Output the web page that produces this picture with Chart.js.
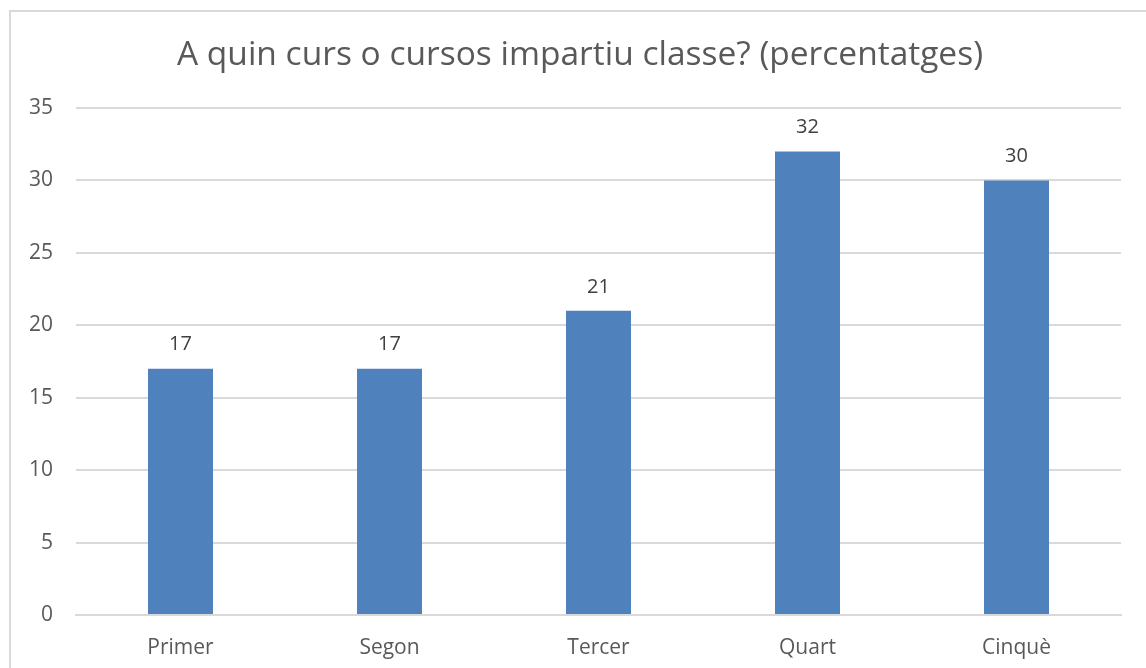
<!DOCTYPE html>
<html>
<head>
<meta charset="utf-8">
<script src="https://cdn.jsdelivr.net/npm/chart.js@4.4.0/dist/chart.umd.min.js"></script>
<style>
    html, body { margin: 0; padding: 0; background: #ffffff; overflow: hidden; }
    #frame {
        position: absolute; left: 9px; top: 10px; width: 1200px; height: 700px;
        border-top: 2px solid #d9d9d9; border-left: 2px solid #d9d9d9;
    }
    #wrap { position: absolute; left: 0; top: 0; width: 1146px; height: 668px; }
</style>
</head>
<body>
<div id="frame"></div>
<div id="wrap"><canvas id="myChart" width="1146" height="668"></canvas></div>
<script>
var titleText = "A quin curs o cursos impartiu classe? (percentatges)";
var cursos = ["Primer", "Segon", "Tercer", "Quart", "Cinquè"];
var percentatges = [17, 17, 21, 32, 30];
var yTicks = [0, 5, 10, 15, 20, 25, 30, 35];

var fontName = "'Open Sans', sans-serif";
var textColor = '#595959';

// labels above each bar
var valueLabels = {
    id: 'valueLabels',
    afterDatasetsDraw: function(chart){
        var ctx = chart.ctx;
        var meta = chart.getDatasetMeta(0);
        ctx.save();
        ctx.font = "20px " + fontName;
        ctx.fillStyle = '#404040';
        ctx.textAlign = 'center';
        ctx.textBaseline = 'middle';
        meta.data.forEach(function(bar, i){
            ctx.fillText(percentatges[i], bar.x, bar.y - 24);
        });
        ctx.restore();
    }
};

// title drawn by hand, the built in one centres on the whole canvas
var chartTitle = {
    id: 'chartTitle',
    afterDraw: function(chart){
        var ctx = chart.ctx;
        ctx.save();
        ctx.font = "33.5px " + fontName;
        ctx.fillStyle = textColor;
        ctx.textAlign = 'center';
        ctx.textBaseline = 'middle';
        ctx.fillText(titleText, 580, 55);
        ctx.restore();
    }
};

var ctx = document.getElementById('myChart').getContext('2d');
var chart = new Chart(ctx, {
    type: 'bar',
    data: {
        labels: cursos,
        datasets: [{
            label: 'Percentatge',
            data: percentatges,
            backgroundColor: '#4f81bd',
            barPercentage: 1,
            categoryPercentage: 0.311
        }]
    },
    options: {
        responsive: false,
        animation: false,
        layout: { padding: { left: 0, right: 25, top: 108, bottom: 0 } },
        plugins: {
            legend: { display: false },
            tooltip: { enabled: false },
            title: { display: false }
        },
        scales: {
            x: {
                grid: { display: false, drawTicks: false },
                border: { display: true, color: '#d9d9d9', width: 2 },
                ticks: { color: textColor, font: { family: fontName, size: 21 }, padding: 20 },
                afterFit: function(scale){ scale.height = 53; }
            },
            y: {
                min: 0,
                max: 35,
                afterBuildTicks: function(scale){
                    scale.ticks = yTicks.map(function(v){ return { value: v }; });
                },
                grid: { color: '#d9d9d9', lineWidth: 2, drawTicks: false },
                border: { display: false },
                ticks: { color: textColor, font: { family: fontName, size: 21 }, padding: 23 },
                afterFit: function(scale){ scale.width = 76; }
            }
        }
    },
    plugins: [valueLabels, chartTitle]
});
</script>
</body>
</html>
